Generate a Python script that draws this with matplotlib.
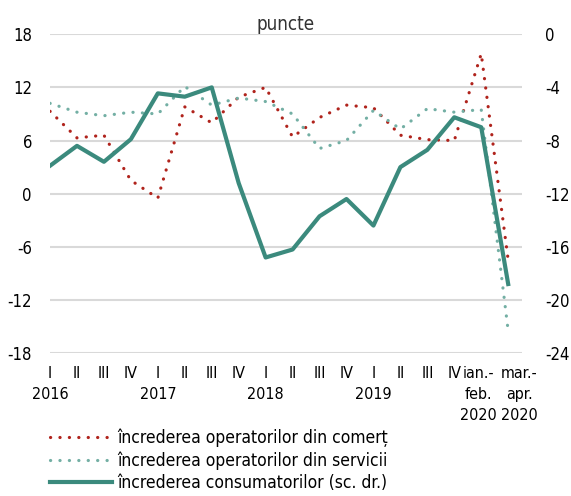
import matplotlib.pyplot as plt
from matplotlib.transforms import ScaledTranslation

# quarters 2016 Q1 .. 2019 Q4, then ian.-feb. 2020 and mar.-apr. 2020
labels = ["I\n2016", "II", "III", "IV",
          "I\n2017", "II", "III", "IV",
          "I\n2018", "II", "III", "IV",
          "I\n2019", "II", "III", "IV",
          "ian.-\nfeb.\n2020", "mar.-\napr.\n2020"]

comert = [9.3, 6.3, 6.6, 1.5, -0.5, 9.8, 8.0, 10.9, 12.0, 6.4,
          8.6, 10.0, 9.7, 6.6, 6.1, 6.0, 15.8, -7.5]
servicii = [10.2, 9.2, 8.8, 9.2, 9.0, 12.1, 10.0, 10.8, 10.4, 9.0,
            5.1, 6.0, 9.4, 7.3, 9.6, 9.2, 9.5, -15.5]
consumatori = [-9.9, -8.4, -9.6, -7.9, -4.45, -4.7, -4.0, -11.2, -16.8, -16.2,
               -13.7, -12.4, -14.4, -10.0, -8.7, -6.25, -7.0, -18.8]

RED = "#B0231C"
TEAL_LIGHT = "#73AFA4"
TEAL = "#3B8A7D"
GRID = "#D9D9D9"

plt.rcParams['font.family'] = ['DejaVu Sans']
plt.rcParams['font.stretch'] = 'condensed'
plt.rcParams['axes.unicode_minus'] = False

x = list(range(len(labels)))

fig = plt.figure(figsize=(5.71, 4.96), dpi=100)
ax = fig.add_axes([0.0876, 0.288, 0.826, 0.643])
ax2 = ax.twinx()

dots = (0, (0.05, 2.9))
l1, = ax.plot(x, comert, color=RED, lw=2.3, ls=dots, dash_capstyle='round')
l2, = ax.plot(x, servicii, color=TEAL_LIGHT, lw=2.3, ls=dots, dash_capstyle='round')
l3, = ax2.plot(x, consumatori, color=TEAL, lw=3)

ax.set_xlim(0, 17.5)
ax.set_ylim(-18, 18)
ax.set_yticks(range(-18, 19, 6))
ax2.set_ylim(-24, 0)
ax2.set_yticks(range(-24, 1, 4))

ax.set_xticks(x)
ax.set_xticklabels(labels, fontsize=11.5, linespacing=1.5, va='top')
ax.tick_params(axis='x', length=0, pad=9)
ax.tick_params(axis='y', length=0, pad=13, labelsize=12)
ax2.tick_params(axis='y', length=0, pad=17, labelsize=12)

# nudge the last two period labels apart, as in the original
xl = ax.get_xticklabels()
xl[-1].set_transform(xl[-1].get_transform() + ScaledTranslation(8 / 72, 0, fig.dpi_scale_trans))
xl[-2].set_transform(xl[-2].get_transform() + ScaledTranslation(-2 / 72, 0, fig.dpi_scale_trans))

ax.set_xticks([0, 4, 8, 12, 16], minor=True)
ax.grid(False)
ax.xaxis.grid(True, which='minor', color=GRID, lw=1.5)
ax.yaxis.grid(True, color=GRID, lw=1.5)
ax.set_axisbelow(True)
for a in (ax, ax2):
    for s in a.spines.values():
        s.set_visible(False)

ax.set_title("puncte", fontsize=13.5, color="#333333", pad=3)

fig.legend([l1, l2, l3],
           ["încrederea operatorilor din comerț",
            "încrederea operatorilor din servicii",
            "încrederea consumatorilor (sc. dr.)"],
           loc='lower left', bbox_to_anchor=(0.06, -0.024), frameon=False,
           fontsize=12.5, handlelength=3.6, handletextpad=0.3, labelspacing=0.25)

fig.savefig("out.png", dpi=100)
